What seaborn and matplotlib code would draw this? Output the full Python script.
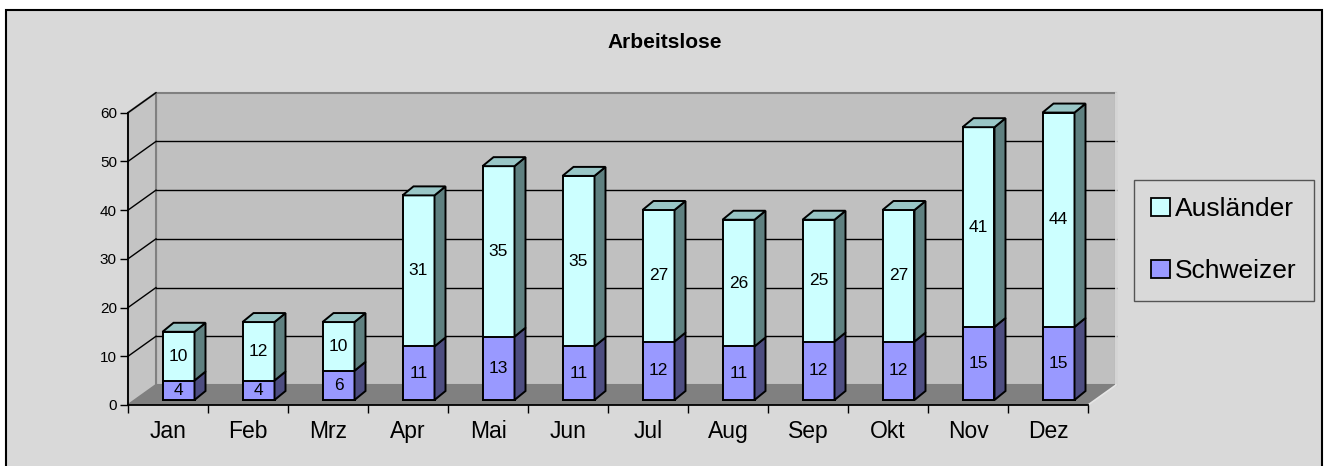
import matplotlib
matplotlib.use("Agg")
import matplotlib.pyplot as plt
import matplotlib.transforms as mtransforms
from matplotlib.patches import Polygon, Rectangle, Patch
from matplotlib.lines import Line2D
import seaborn as sns

plt.rcParams['font.family'] = ['Liberation Sans', 'DejaVu Sans']

# ---------------- data ----------------
months = ["Jan", "Feb", "Mrz", "Apr", "Mai", "Jun", "Jul", "Aug", "Sep", "Okt", "Nov", "Dez"]
schweizer = [4, 4, 6, 11, 13, 11, 12, 11, 12, 12, 15, 15]
auslaender = [10, 12, 10, 31, 35, 35, 27, 26, 25, 27, 41, 44]
y_ticks = [0, 10, 20, 30, 40, 50, 60]
title = "Arbeitslose"

totals = [s + a for s, a in zip(schweizer, auslaender)]

# ---------------- style ----------------
W, H, DPI = 1325, 466, 100
BG = "#D9D9D9"
WALL = "#C0C0C0"
LWALL = "#C4C4C4"
FLOOR = "#808080"
CY_F, CY_S, CY_T = "#CCFFFF", "#5F8080", "#99C6C6"
PU_F, PU_S = "#9999FF", "#4D4D80"

fig = plt.figure(figsize=(W / DPI, H / DPI), dpi=DPI, facecolor="white")
fig.patches.append(Rectangle((5.5 / W, -0.05), (1321.5 - 5.5) / W, 1 - 10 / H + 0.05,
                             transform=fig.transFigure, facecolor=BG, edgecolor="black",
                             linewidth=1.5, zorder=-10))

px_unit_y = (405 - 112.7) / 60.0  # pixels per value unit
px_cat = 960 / 12.0
ax = fig.add_axes([128 / W, (H - 405) / H, 960 / W, (405 - 112.7) / H])
ax.set_facecolor("none")

# wall depth (in data units derived from pixel depth)
wdx = 28 / px_cat
wdy = 20 / px_unit_y

# back wall, left wall, floor
ax.add_patch(Polygon([(-0.5 + wdx, wdy), (11.5 + wdx, wdy), (11.5 + wdx, 60 + wdy), (-0.5 + wdx, 60 + wdy)],
                     closed=True, facecolor=WALL, edgecolor="#808080", linewidth=1.5, zorder=0.5, clip_on=False))
ax.add_patch(Polygon([(-0.5, 0), (-0.5 + wdx, wdy), (-0.5 + wdx, 60 + wdy), (-0.5, 60)],
                     closed=True, facecolor=LWALL, edgecolor="#808080", linewidth=1.5, zorder=0.5, clip_on=False))
for v in y_ticks[1:-1]:
    ax.add_line(Line2D([-0.5 + wdx, 11.5 + wdx], [v + wdy, v + wdy], color="black", linewidth=1.0, zorder=0.6, clip_on=False))
for v in y_ticks[1:]:
    ax.add_line(Line2D([-0.5, -0.5 + wdx], [v, v + wdy], color="black", linewidth=1.0, zorder=0.6, clip_on=False))
ax.add_line(Line2D([11.5 + wdx, 11.5 + wdx], [wdy, 60 + wdy], color="#E6E6E6", linewidth=1.2, zorder=0.65, clip_on=False))
ax.add_patch(Polygon([(-0.5, 0), (11.5, 0), (11.5 + wdx, wdy), (-0.5 + wdx, wdy)],
                     closed=True, facecolor=FLOOR, edgecolor="none", zorder=0.7, clip_on=False))
ax.add_line(Line2D([11.5, 11.5 + wdx], [0, wdy], color="#E6E6E6", linewidth=1.2, zorder=0.75, clip_on=False))

# bars (front faces) through seaborn
BW = 0.4
sns.barplot(x=months, y=totals, color=CY_F, saturation=1, width=BW, edgecolor="black",
            linewidth=1.4, ax=ax, zorder=3)
sns.barplot(x=months, y=schweizer, color=PU_F, saturation=1, width=BW, edgecolor="black",
            linewidth=1.4, ax=ax, zorder=3.1)

off = mtransforms.ScaledTranslation(10.5 / DPI, 5 / DPI, fig.dpi_scale_trans)
tr = ax.transData + off
for p in ax.patches:
    if p.get_zorder() >= 3:
        p.set_transform(tr)
        p.set_clip_on(False)

bdx = 11 / px_cat
bdy = 9 / px_unit_y
for i, (s, t) in enumerate(zip(schweizer, totals)):
    xl, xr = i - BW / 2, i + BW / 2
    # purple side
    ax.add_patch(Polygon([(xr, 0), (xr + bdx, bdy), (xr + bdx, s + bdy), (xr, s)], closed=True,
                         facecolor=PU_S, edgecolor="black", linewidth=1.4, transform=tr, clip_on=False, zorder=3.2))
    # cyan side
    ax.add_patch(Polygon([(xr, s), (xr + bdx, s + bdy), (xr + bdx, t + bdy), (xr, t)], closed=True,
                         facecolor=CY_S, edgecolor="black", linewidth=1.4, transform=tr, clip_on=False, zorder=3.2))
    # top
    ax.add_patch(Polygon([(xl, t), (xl + bdx, t + bdy), (xr + bdx, t + bdy), (xr, t)], closed=True,
                         facecolor=CY_T, edgecolor="black", linewidth=1.4, transform=tr, clip_on=False, zorder=3.2))
    ax.text(i, s / 2, str(s), transform=tr, ha="center", va="center", fontsize=12.5, zorder=4)
    ax.text(i, s + (t - s) / 2, str(t - s), transform=tr, ha="center", va="center", fontsize=12.5, zorder=4)

# axes
ax.set_xlim(-0.5, 11.5)
ax.set_ylim(0, 60)
ax.set_yticks(y_ticks)
ax.set_yticklabels([str(v) for v in y_ticks], fontsize=11)
ax.set_xticks(range(12))
ax.set_xticklabels(months, fontsize=16.5)
ax.set_xticks([i - 0.5 for i in range(13)], minor=True)
ax.tick_params(axis="x", which="major", length=0, pad=11)
ax.tick_params(axis="x", which="minor", length=6, width=1, color="black", direction="out")
ax.tick_params(axis="y", length=6, width=1, color="black", pad=2, direction="out")
ax.set_xlabel("")
ax.set_ylabel("")
for side in ["top", "right"]:
    ax.spines[side].set_visible(False)
for side in ["left", "bottom"]:
    ax.spines[side].set_color("black")
    ax.spines[side].set_linewidth(1.3)
    ax.spines[side].set_zorder(2)
ax.grid(False)

fig.text(664.5 / W, 1 - 42 / H, title, ha="center", va="center", fontsize=15, fontweight="bold")

handles = [Patch(facecolor=CY_F, edgecolor="black", linewidth=1.3, label="Ausländer"),
           Patch(facecolor=PU_F, edgecolor="black", linewidth=1.3, label="Schweizer")]
leg = fig.legend(handles=handles, loc="upper left", bbox_to_anchor=(1134 / W, 1 - 180 / H),
                 fontsize=19, frameon=True, fancybox=False, facecolor=BG, edgecolor="#555555",
                 framealpha=1, handlelength=0.7, handleheight=0.7, handletextpad=0.2,
                 labelspacing=1.45, borderpad=0.65, borderaxespad=0)
leg.get_frame().set_linewidth(1.0)

fig.savefig("out.png", dpi=DPI, facecolor=fig.get_facecolor())
